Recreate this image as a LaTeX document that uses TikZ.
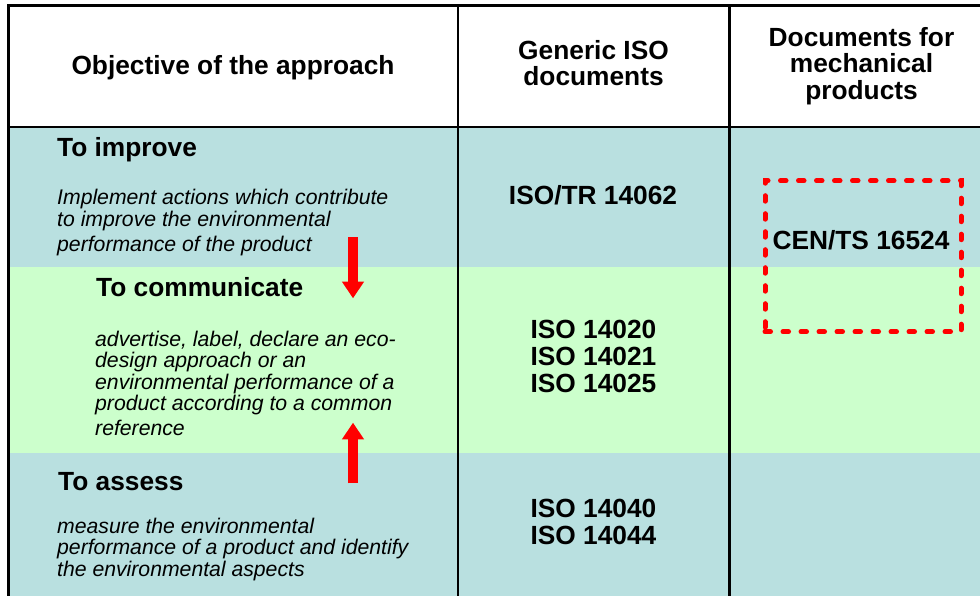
\documentclass[tikz,border=0pt]{standalone}
\usepackage{fontspec}
\setmainfont{Liberation Sans}
\usetikzlibrary{arrows.meta}
\definecolor{rowblue}{RGB}{185,224,224}
\definecolor{rowgreen}{RGB}{204,255,204}
\begin{document}
\begin{tikzpicture}[x=1pt,y=-1pt,
  colhead/.style={font=\fontsize{26.3}{26.3}\selectfont\bfseries, inner sep=0pt, anchor=base},
  rowtitle/.style={font=\fontsize{26.3}{26.3}\selectfont\bfseries, inner sep=0pt, anchor=base west},
  rowdesc/.style={font=\fontsize{21.2}{21.2}\selectfont\itshape, inner sep=0pt, anchor=base west},
  docref/.style={font=\fontsize{26.3}{26.3}\selectfont\bfseries, inner sep=0pt, anchor=base},
  gridline/.style={line width=2.5pt, black},
  flowarrow/.style={red, line width=10.6pt, -{Triangle[length=16.6pt,width=21pt]}},
  dashbox/.style={draw=red, line width=5pt, dash pattern=on 5.5pt off 12.5pt, line cap=round},
]
\useasboundingbox (0,0) rectangle (980,596);

% row bands
\fill[rowblue]  (8,127)   rectangle (980,267.3);
\fill[rowgreen] (8,267.3) rectangle (980,452.7);
\fill[rowblue]  (8,452.7) rectangle (980,596);

% table rules
\draw[gridline] (7.5,5.5) -- (980,5.5);
\draw[gridline] (8.5,4.5) -- (8.5,596);
\draw[gridline] (8,127) -- (980,127);
\draw[gridline] (458,4.5) -- (458,596);
\draw[gridline] (729.3,4.5) -- (729.3,596);

% column headings
\node[colhead] (h1) at (233,74.5) {Objective of the approach};
\node[colhead] (h2a) at (593.5,59.5) {Generic ISO};
\node[colhead] (h2b) at (593.5,86) {documents};
\node[colhead] (h3a) at (861.5,46.7) {Documents for};
\node[colhead] (h3b) at (861.5,73) {mechanical};
\node[colhead] (h3c) at (861.5,99.3) {products};

% row: improve
\node[rowtitle] (imp) at (57,157) {To improve};
\node[rowdesc] (imp1) at (57,205) {Implement actions which contribute};
\node[rowdesc] (imp2) at (57,226.7) {to improve the environmental};
\node[rowdesc] (imp3) at (57,251.7) {performance of the product};

% row: communicate
\node[rowtitle] (com) at (96,296.7) {To communicate};
\node[rowdesc] (com1) at (95,346) {advertise, label, declare an eco-};
\node[rowdesc] (com2) at (95,367.3) {design approach or an};
\node[rowdesc] (com3) at (95,389) {environmental performance of a};
\node[rowdesc] (com4) at (95,410) {product according to a common};
\node[rowdesc] (com5) at (95,435) {reference};

% row: assess
\node[rowtitle] (ass) at (58,490) {To assess};
\node[rowdesc] (ass1) at (57,533.5) {measure the environmental};
\node[rowdesc] (ass2) at (57,554.5) {performance of a product and identify};
\node[rowdesc] (ass3) at (57,576.5) {the environmental aspects};

% generic ISO documents
\node[docref] (tr) at (593,204.3) {ISO/TR 14062};
\node[docref] (d20) at (593.5,338.3) {ISO 14020};
\node[docref] (d21) at (593.5,365.5) {ISO 14021};
\node[docref] (d25) at (593.5,392.5) {ISO 14025};
\node[docref] (d40) at (593.5,517.7) {ISO 14040};
\node[docref] (d44) at (593.5,544.3) {ISO 14044};

% document for mechanical products
\node[dashbox, inner sep=0pt, minimum width=196pt, minimum height=151pt] (cenbox) at (863,256.2) {};
\node[docref] (cen) at (861,250) {CEN/TS 16524};

% arrows towards the communication row
\coordinate (dtop) at (353,237.3);
\coordinate (dtip) at (353,298.3);
\coordinate (ubot) at (353,483.3);
\coordinate (utip) at (353,422.7);
\draw[flowarrow] (dtop) -- (dtip);
\draw[flowarrow] (ubot) -- (utip);
\end{tikzpicture}
\end{document}
